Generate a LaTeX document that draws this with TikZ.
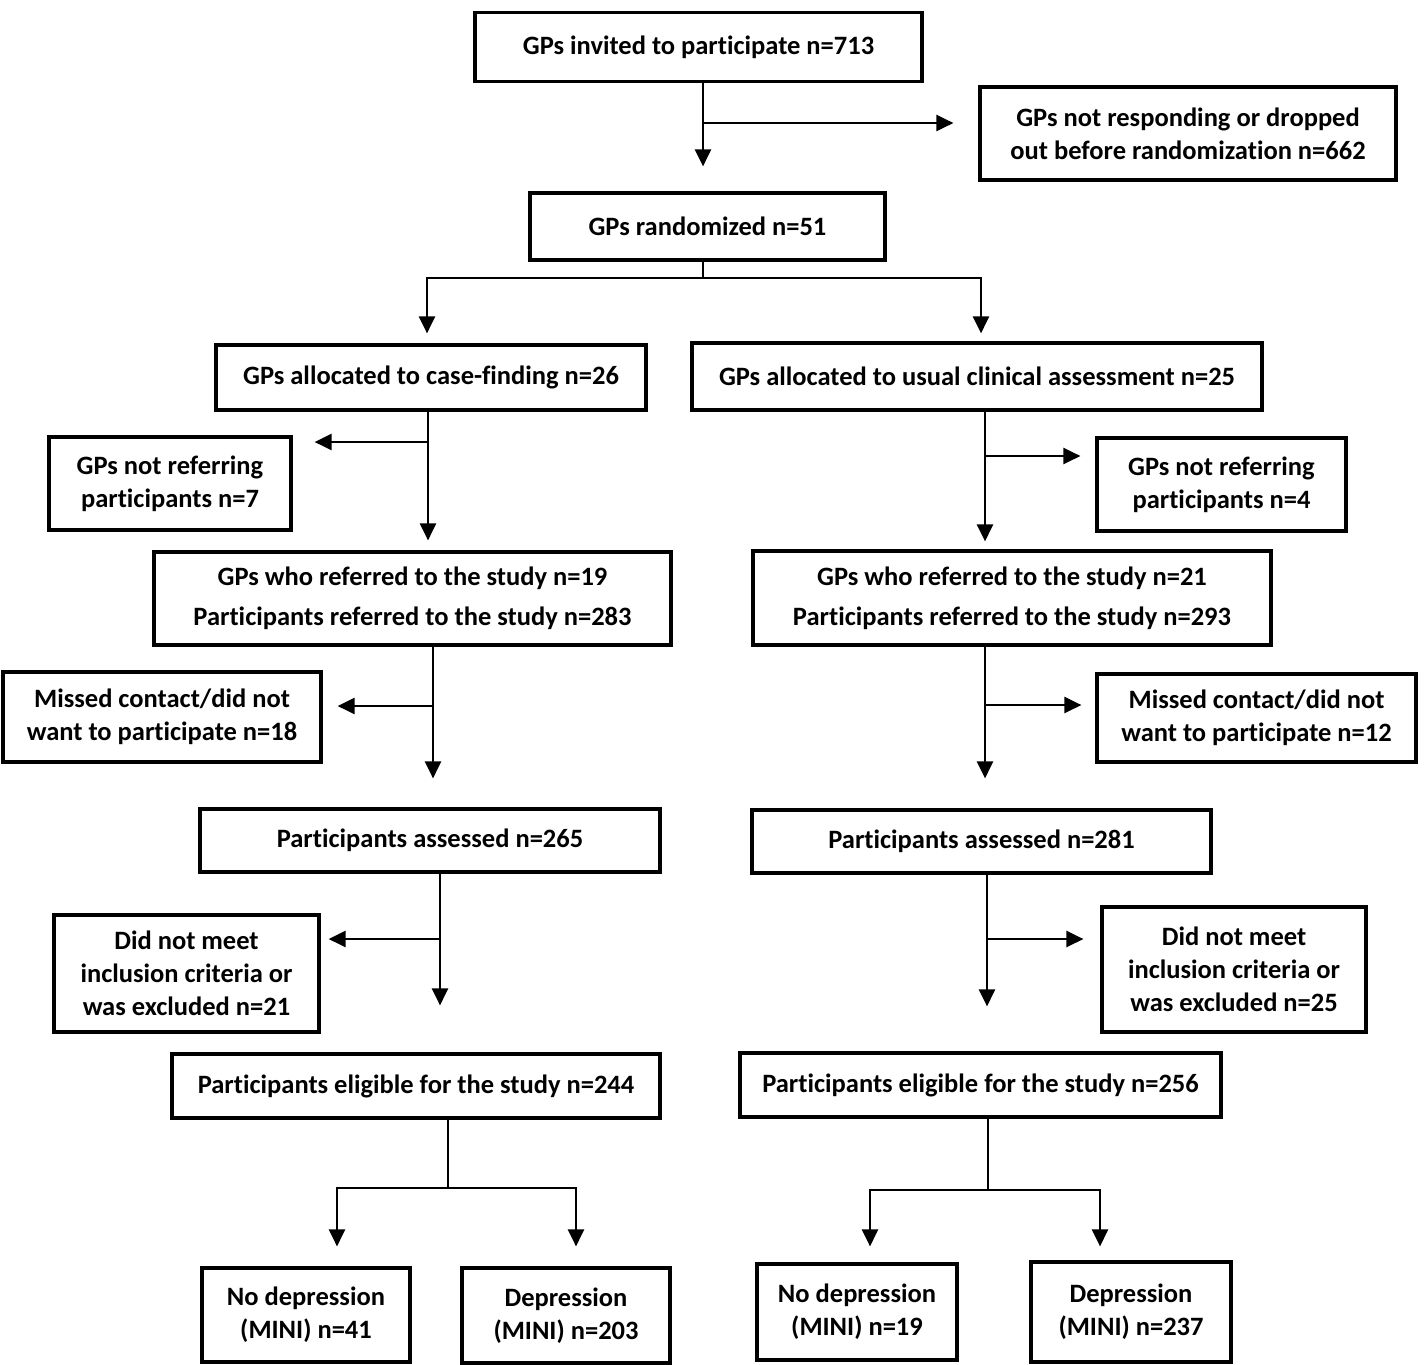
\documentclass[tikz,border=0pt]{standalone}
\usepackage{fontspec}
\setmainfont{Carlito}[Ligatures=NoCommon]
\usetikzlibrary{arrows.meta}

\begin{document}
\begin{tikzpicture}[x=1pt,y=-1pt,
	box/.style={draw,line width=3.2pt,align=center,inner sep=0pt,font=\fontsize{26.5}{33}\selectfont\bfseries},
	sz/.style 2 args={minimum width=#1pt,minimum height=#2pt},
	arr/.style={line width=2.6pt,-{Triangle[length=17pt,width=16pt]}},
	ln/.style={line width=2.6pt}]
	\useasboundingbox (0,0) rectangle (1424,1365);
	\node[box,sz={447}{69}] (inv) at (698.5,47) {GPs invited to participate n=713};
	\node[box,sz={416}{93}] (drop) at (1188,133.5) {GPs not responding or dropped\\out before randomization n=662};
	\node[box,sz={355}{67}] (rand) at (707.5,226.5) {GPs randomized n=51};
	\node[box,sz={430}{65}] (cf) at (431,377.5) {GPs allocated to case-finding n=26};
	\node[box,sz={570}{67}] (uca) at (977,376.5) {GPs allocated to usual clinical assessment n=25};
	\node[box,sz={242}{93}] (nrL) at (170,483.5) {GPs not referring\\participants n=7};
	\node[box,sz={249}{93}] (nrR) at (1221.5,484.5) {GPs not referring\\participants n=4};
	\node[box,sz={517}{93}] (refL) at (412.5,598.5) {GPs who referred to the study n=19\\[7pt]Participants referred to the study n=283};
	\node[box,sz={518}{94}] (refR) at (1012,598) {GPs who referred to the study n=21\\[7pt]Participants referred to the study n=293};
	\node[box,sz={318}{90}] (missL) at (162,717) {Missed contact/did not\\want to participate n=18};
	\node[box,sz={319}{88}] (missR) at (1256.5,718) {Missed contact/did not\\want to participate n=12};
	\node[box,sz={460}{63}] (assL) at (430,840.5) {Participants assessed n=265};
	\node[box,sz={459}{63}] (assR) at (981.5,841.5) {Participants assessed n=281};
	\node[box,sz={265}{117}] (exL) at (186.5,973.5) {Did not meet\\inclusion criteria or\\was excluded n=21};
	\node[box,sz={264}{125}] (exR) at (1234,969.5) {Did not meet\\inclusion criteria or\\was excluded n=25};
	\node[box,sz={488}{64}] (eligL) at (416,1086) {Participants eligible for the study n=244};
	\node[box,sz={481}{64}] (eligR) at (980.5,1085) {Participants eligible for the study n=256};
	\node[box,sz={208}{94}] (ndL) at (306,1315) {No depression\\(MINI) n=41};
	\node[box,sz={208}{95}] (dL) at (566,1315.5) {Depression\\(MINI) n=203};
	\node[box,sz={200}{96}] (ndR) at (857,1312) {No depression\\(MINI) n=19};
	\node[box,sz={200}{100}] (dR) at (1131,1312) {Depression\\(MINI) n=237};

	\coordinate (j1) at (703,123);
	\coordinate (s1) at (703,278);
	\coordinate (cL1) at (428,442);
	\coordinate (cR1) at (985,456);
	\coordinate (cL2) at (433,706);
	\coordinate (cR2) at (985,705);
	\coordinate (cL3) at (440,939);
	\coordinate (cR3) at (987,939);
	\coordinate (cL4) at (448,1188);
	\coordinate (cR4) at (988,1190);

	\draw[arr,shorten >=25pt] (inv.south -| j1) -- (rand.north -| j1);
	\draw[arr,shorten >=25pt] (j1) -- (drop.west |- j1);
	\draw[ln] (rand.south -| s1) -- (s1);
	\draw[arr,shorten >=10pt] (s1) -| ([xshift=-4pt]cf.north);
	\draw[arr,shorten >=8pt] (s1) -| ([xshift=4pt]uca.north);

	\draw[arr,shorten >=10pt] (cf.south -| cL1) -- (refL.north -| cL1);
	\draw[arr,shorten >=22pt] (cL1) -- (nrL.east |- cL1);
	\draw[arr,shorten >=8pt] (uca.south -| cR1) -- (refR.north -| cR1);
	\draw[arr,shorten >=15pt] (cR1) -- (nrR.west |- cR1);

	\draw[arr,shorten >=29pt] (refL.south -| cL2) -- (assL.north -| cL2);
	\draw[arr,shorten >=15pt] (cL2) -- (missL.east |- cL2);
	\draw[arr,shorten >=30pt] (refR.south -| cR2) -- (assR.north -| cR2);
	\draw[arr,shorten >=14pt] (cR2) -- (missR.west |- cR2);

	\draw[arr,shorten >=47pt] (assL.south -| cL3) -- (eligL.north -| cL3);
	\draw[arr,shorten >=8pt] (cL3) -- (exL.east |- cL3);
	\draw[arr,shorten >=45pt] (assR.south -| cR3) -- (eligR.north -| cR3);
	\draw[arr,shorten >=17pt] (cR3) -- (exR.west |- cR3);

	\draw[ln] (eligL.south -| cL4) -- (cL4);
	\draw[arr,shorten >=20pt] (cL4) -| ([xshift=31pt]ndL.north);
	\draw[arr,shorten >=20pt] (cL4) -| ([xshift=10pt]dL.north);
	\draw[ln] (eligR.south -| cR4) -- (cR4);
	\draw[arr,shorten >=16pt] (cR4) -| ([xshift=13pt]ndR.north);
	\draw[arr,shorten >=14pt] (cR4) -| ([xshift=-31pt]dR.north);
\end{tikzpicture}
\end{document}
